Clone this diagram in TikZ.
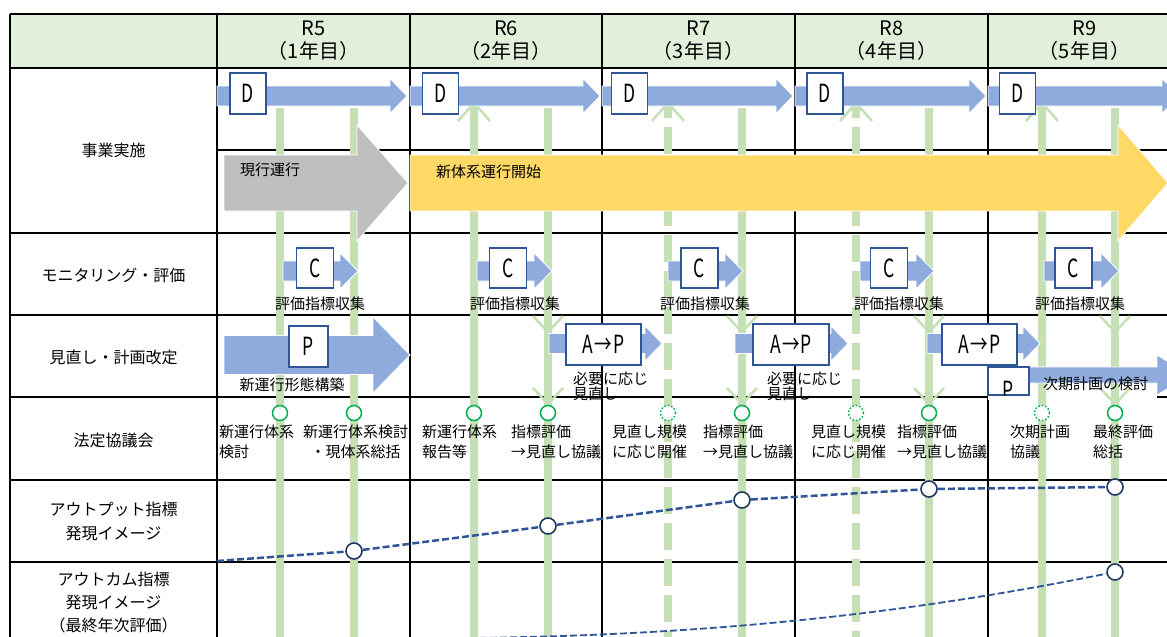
\documentclass[tikz,border=0pt]{standalone}
\usepackage{fontspec}
\usepackage{graphicx}
\setmainfont{Noto Sans CJK JP}

\definecolor{hdrgreen}{HTML}{E2EFDA}
\definecolor{bargreen}{HTML}{C5E0B4}
\definecolor{dblue}{HTML}{8FAADC}
\definecolor{boxblue}{HTML}{2F5597}
\definecolor{navy}{HTML}{1F3864}
\definecolor{cgreen}{HTML}{00B050}
\definecolor{nowgray}{HTML}{BFBFBF}
\definecolor{newyellow}{HTML}{FFD966}

% block arrow: x1, x2 (tip), y mid, body half, head half, head length, colour
\newcommand{\blockarrow}[7]{%
  \filldraw[fill=#7, draw=white, line width=0.8pt]
    (#1,#3-#4) -- (#2-#6,#3-#4) -- (#2-#6,#3-#5) -- (#2,#3)
    -- (#2-#6,#3+#5) -- (#2-#6,#3+#4) -- (#1,#3+#4) -- cycle;}
\newcommand{\pdc}[1]{\scalebox{0.7}[1]{#1}}

\begin{document}
\begin{tikzpicture}[x=1pt, y=-1pt,
    gridline/.style={line width=1.5pt},
    bar/.style={draw=bargreen, line width=8pt},
    dashbar/.style={bar, dash pattern=on 27pt off 9pt, dash phase=12pt},
    chev/.style={draw=bargreen, line width=2.5pt},
    pdca/.style={draw=boxblue, fill=white, line width=1.2pt, inner sep=0pt, font=\fontsize{25}{25}\selectfont},
    rowhd/.style={font=\fontsize{16}{24}\selectfont, align=center},
    colhd/.style={font=\fontsize{20}{23}\selectfont, align=center},
    lbl/.style={font=\fontsize{15}{20}\selectfont, inner sep=0pt, align=left, anchor=west},
    meet/.style={circle, draw=cgreen, fill=white, line width=1.5pt, minimum size=15pt, inner sep=0pt},
    maybe/.style={meet, dotted},
    obsv/.style={circle, draw=navy, fill=white, line width=1.6pt, minimum size=16pt, inner sep=0pt},
    trend/.style={draw=boxblue, line width=2.5pt, dash pattern=on 7pt off 3pt}
]
\useasboundingbox (0,0) rectangle (1167,637);
\clip (0,0) rectangle (1167,637);

% table
\fill[hdrgreen] (10,14) rectangle (1167,68);
\draw[gridline] (10,14) -- (1167,14) (10,68) -- (1167,68) (217,150) -- (1167,150)
    (10,233) -- (1167,233) (10,315) -- (1167,315) (10,397) -- (1167,397)
    (10,480) -- (1167,480) (10,562) -- (1167,562)
    (10,14) -- (10,640) (217,14) -- (217,640) (410,14) -- (410,640)
    (602,14) -- (602,640) (795,14) -- (795,640) (988,14) -- (988,640);
\fill[white] (988,383) rectangle (1157,400);

% time bars
\draw[bar] (280,108) -- (280,640);
\draw[bar] (354,108) -- (354,640);
\draw[bar] (474,103) -- (474,640);
\draw[bar] (548,108) -- (548,640);
\draw[dashbar] (668,103) -- (668,640);
\draw[bar] (742,108) -- (742,640);
\draw[dashbar] (856,103) -- (856,640);
\draw[bar] (929,108) -- (929,640);
\draw[bar] (1042,103) -- (1042,640);
\draw[bar] (1115,108) -- (1115,640);

\draw[chev] (458,121) -- (474,103) -- (490,121);
\draw[chev] (652,121) -- (668,103) -- (684,121);
\draw[chev] (840,121) -- (856,103) -- (872,121);
\draw[chev] (1026,121) -- (1042,103) -- (1058,121);
\draw[chev] (533,316) -- (548,332) -- (563,316);
\draw[chev] (533,388) -- (548,404) -- (563,388);
\draw[chev] (727,316) -- (742,332) -- (757,316);
\draw[chev] (727,388) -- (742,404) -- (757,388);
\draw[chev] (914,316) -- (929,332) -- (944,316);
\draw[chev] (914,388) -- (929,404) -- (944,388);
\draw[chev] (1100,316) -- (1115,332) -- (1130,316);
\draw[chev] (1100,388) -- (1115,404) -- (1130,388);

% arrows
\blockarrow{217}{407}{96}{10}{17.5}{17}{dblue}
\blockarrow{410}{600}{96}{10}{17.5}{17}{dblue}
\blockarrow{602}{793}{96}{10}{17.5}{17}{dblue}
\blockarrow{795}{986}{96}{10}{17.5}{17}{dblue}
\blockarrow{988}{1179}{96}{10}{17.5}{17}{dblue}
\blockarrow{224}{408}{183}{28}{58}{51}{nowgray}
\blockarrow{410}{1168}{183}{28}{58}{50}{newyellow}
\blockarrow{283}{358}{271}{10}{18}{18}{dblue}
\blockarrow{477}{552}{271}{10}{18}{18}{dblue}
\blockarrow{668}{743}{271}{10}{18}{18}{dblue}
\blockarrow{860}{934}{271}{10}{18}{18}{dblue}
\blockarrow{1044}{1119}{271}{10}{18}{18}{dblue}
\blockarrow{224}{410}{355}{19.5}{38}{37}{dblue}
\blockarrow{549}{662}{343.5}{10}{17.5}{17}{dblue}
\blockarrow{735}{848}{343.5}{10}{17.5}{17}{dblue}
\blockarrow{927}{1040}{343.5}{10}{17.5}{17}{dblue}
\blockarrow{988}{1190}{375}{8}{20}{33}{dblue}

% D / C / P / A->P boxes
\node[pdca, minimum width=36pt, minimum height=41pt] (d5) at (248,93.5) {\pdc{D}};
\node[pdca, minimum width=36pt, minimum height=41pt] (d6) at (440.5,93.5) {\pdc{D}};
\node[pdca, minimum width=36pt, minimum height=41pt] (d7) at (629.5,93.5) {\pdc{D}};
\node[pdca, minimum width=36pt, minimum height=41pt] (d8) at (825,93.5) {\pdc{D}};
\node[pdca, minimum width=36pt, minimum height=41pt] (d9) at (1017.5,93.5) {\pdc{D}};
\node[pdca, minimum width=37pt, minimum height=40pt] (c5) at (315,268) {\pdc{C}};
\node[pdca, minimum width=37pt, minimum height=40pt] (c6) at (508,268) {\pdc{C}};
\node[pdca, minimum width=37pt, minimum height=40pt] (c7) at (699.5,268) {\pdc{C}};
\node[pdca, minimum width=37pt, minimum height=40pt] (c8) at (889,268) {\pdc{C}};
\node[pdca, minimum width=37pt, minimum height=40pt] (c9) at (1073.5,268) {\pdc{C}};
\node[pdca, minimum width=39pt, minimum height=41pt] (p5) at (308.5,346.5) {\pdc{P}};
\node[pdca, minimum width=75pt, minimum height=41pt] (ap6) at (603.5,344.5) {\pdc{A\kern2pt→\kern2pt P}};
\node[pdca, minimum width=76pt, minimum height=41pt] (ap7) at (791,344.5) {\pdc{A\kern2pt→\kern2pt P}};
\node[pdca, minimum width=75pt, minimum height=41pt] (ap8) at (979.5,344.5) {\pdc{A\kern2pt→\kern2pt P}};
\node[pdca, minimum width=41pt, minimum height=28pt] (p9) at (1008.5,381) {};
\begin{scope}
  \clip (988,367) rectangle (1029,395);
  \node[font=\fontsize{25}{25}\selectfont, inner sep=0pt] (p9t) at (1008.5,390) {\pdc{P}};
\end{scope}

% council meetings
\node[meet] (m5a) at (280,413) {};
\node[meet] (m5b) at (354,413) {};
\node[meet] (m6a) at (474,413) {};
\node[meet] (m6b) at (548,413) {};
\node[maybe] (m7a) at (668,413) {};
\node[meet] (m7b) at (742,413) {};
\node[maybe] (m8a) at (856,413) {};
\node[meet] (m8b) at (929,413) {};
\node[maybe] (m9a) at (1042,413) {};
\node[meet] (m9b) at (1115,413) {};

% indicator images
\coordinate (o0) at (217,561);
\node[obsv] (o1) at (354,551) {};
\node[obsv] (o2) at (548,526) {};
\node[obsv] (o3) at (742,500) {};
\node[obsv] (o4) at (929,489) {};
\node[obsv] (o5) at (1115,487) {};
\draw[trend] (o0) -- (o1) -- (o2) -- (o3) -- (o4) -- (o5);
\coordinate (q0) at (470,638);
\node[obsv] (q1) at (1115,572) {};
\draw[trend, line width=1.8pt] (q0) .. controls (750,635) and (950,605) .. (q1);

% headings
\node[colhd] (h5) at (313.5,41) {R5\\（1年目）};
\node[colhd] (h6) at (506,41) {R6\\（2年目）};
\node[colhd] (h7) at (698.5,41) {R7\\（3年目）};
\node[colhd] (h8) at (891.5,41) {R8\\（4年目）};
\node[colhd] (h9) at (1084.5,41) {R9\\（5年目）};
\node[rowhd] (r1) at (113.5,150) {事業実施};
\node[rowhd] (r2) at (113.5,275) {モニタリング・評価};
\node[rowhd] (r3) at (113.5,357) {見直し・計画改定};
\node[rowhd] (r4) at (113.5,440) {法定協議会};
\node[rowhd] (r5) at (113.5,521) {アウトプット指標\\発現イメージ};
\node[rowhd, font=\fontsize{16}{23}\selectfont] (r6) at (113.5,603) {アウトカム指標\\発現イメージ\\（最終年次評価）};

% labels
\node[lbl] (now) at (240,170) {現行運行};
\node[lbl] (newsys) at (436,172) {新体系運行開始};
\node[lbl, anchor=center] (cl5) at (320,304) {評価指標収集};
\node[lbl, anchor=center] (cl6) at (515,304) {評価指標収集};
\node[lbl, anchor=center] (cl7) at (705,304) {評価指標収集};
\node[lbl, anchor=center] (cl8) at (899,304) {評価指標収集};
\node[lbl, anchor=center] (cl9) at (1080,304) {評価指標収集};
\node[lbl, anchor=center] (pl5) at (292,385) {新運行形態構築};
\node[lbl, font=\fontsize{15}{15}\selectfont] (apn6) at (573,386) {必要に応じ\\見直し};
\node[lbl, font=\fontsize{15}{15}\selectfont] (apn7) at (767,386) {必要に応じ\\見直し};
\node[lbl] (np9) at (1043,384) {次期計画の検討};
\node[lbl] (k5a) at (219,442) {新運行体系\\検討};
\node[lbl, align=center] (k5b) at (303,442) {新運行体系検討\\・現体系総括};
\node[lbl] (k6a) at (422,442) {新運行体系\\報告等};
\node[lbl] (k6b) at (511,442) {指標評価\\→見直し協議};
\node[lbl] (k7a) at (612,442) {見直し規模\\に応じ開催};
\node[lbl] (k7b) at (703,442) {指標評価\\→見直し協議};
\node[lbl] (k8a) at (811,442) {見直し規模\\に応じ開催};
\node[lbl] (k8b) at (897,442) {指標評価\\→見直し協議};
\node[lbl] (k9a) at (1010,442) {次期計画\\協議};
\node[lbl] (k9b) at (1093,442) {最終評価\\総括};
\end{tikzpicture}
\end{document}
